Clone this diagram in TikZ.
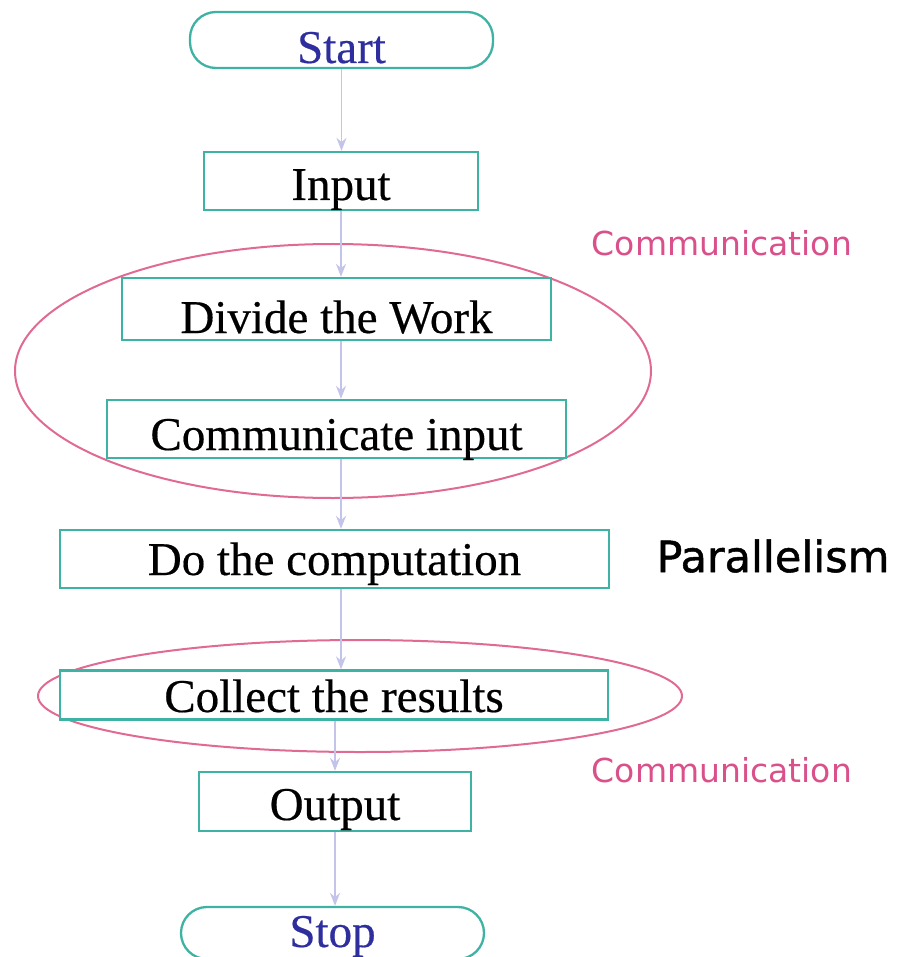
\documentclass[tikz,border=0pt]{standalone}
\usepackage{fontspec}
\setmainfont{Liberation Serif}
\newfontfamily\stepfont[FakeBold=0.4]{Liberation Serif}
\newfontfamily\labelfont{DejaVu Sans}
\newfontfamily\heavylabelfont[FakeBold=1.2]{DejaVu Sans}
\usetikzlibrary{arrows.meta}
\definecolor{boxline}{HTML}{3FB3A3}
\definecolor{flowline}{HTML}{C4C4EA}
\definecolor{groupline}{HTML}{E06A92}
\definecolor{termtext}{HTML}{2E2E9E}
\definecolor{commtext}{HTML}{D9508A}
\tikzset{
  x=1pt, y=1pt,
  stepbox/.style={draw=boxline, line width=2.3pt, fill=white, inner sep=0pt,
    text depth=4pt, font=\stepfont\fontsize{47}{50}\selectfont},
  termbox/.style={stepbox, rounded corners=26pt, text=termtext},
  flow/.style={draw=flowline, line width=1.6pt, -{Stealth[length=13pt,width=10pt]}},
  group/.style={draw=groupline, line width=2pt},
  commlabel/.style={text=commtext, font=\labelfont\fontsize{33}{36}\selectfont},
}
\begin{document}
\begin{tikzpicture}
\useasboundingbox (0,0) rectangle (896,-957);

% group outlines
\draw[group] (333,-371) ellipse [x radius=318, y radius=127];
\draw[group] (360,-696) ellipse [x radius=322, y radius=56];

% flow steps
\node[termbox, minimum width=303, minimum height=56, text height=50pt] (start) at (341.5,-40) {Start};
\node[stepbox, minimum width=274, minimum height=58, text height=42pt] (input) at (341,-181) {Input};
\node[stepbox, minimum width=429, minimum height=62, text height=52pt] (divide) at (336.5,-309) {Divide the Work};
\node[stepbox, minimum width=459, minimum height=58, text height=46pt] (comm) at (336.5,-429) {Communicate input};
\node[stepbox, minimum width=549, minimum height=58, text height=36pt] (compute) at (334.5,-559) {Do the computation};
\node[stepbox, minimum width=548, minimum height=49, text height=38pt] (collect) at (334,-695) {Collect the results};
\node[stepbox, minimum width=272, minimum height=59, text height=41pt] (output) at (335,-801.5) {Output};
\node[termbox, minimum width=303, minimum height=52, text height=32pt] (stop) at (332.5,-933) {Stop};

% connectors, kept vertical
\draw[flow] (start.south) -- (start.south |- input.north);
\draw[flow] (input.south) -- (input.south |- divide.north);
\draw[flow] (input.south |- divide.south) -- (input.south |- comm.north);
\draw[flow] (input.south |- comm.south) -- (input.south |- compute.north);
\draw[flow] (input.south |- compute.south) -- (input.south |- collect.north);
\draw[flow] (output.north |- collect.south) -- (output.north);
\draw[flow] (output.south) -- (output.south |- stop.north);

% side labels
\node[commlabel] (comm1) at (722,-243) {Communication};
\node[font=\heavylabelfont\fontsize{43}{48}\selectfont] (par) at (773,-556) {Parallelism};
\node[commlabel] (comm2) at (722,-770) {Communication};
\end{tikzpicture}
\end{document}
